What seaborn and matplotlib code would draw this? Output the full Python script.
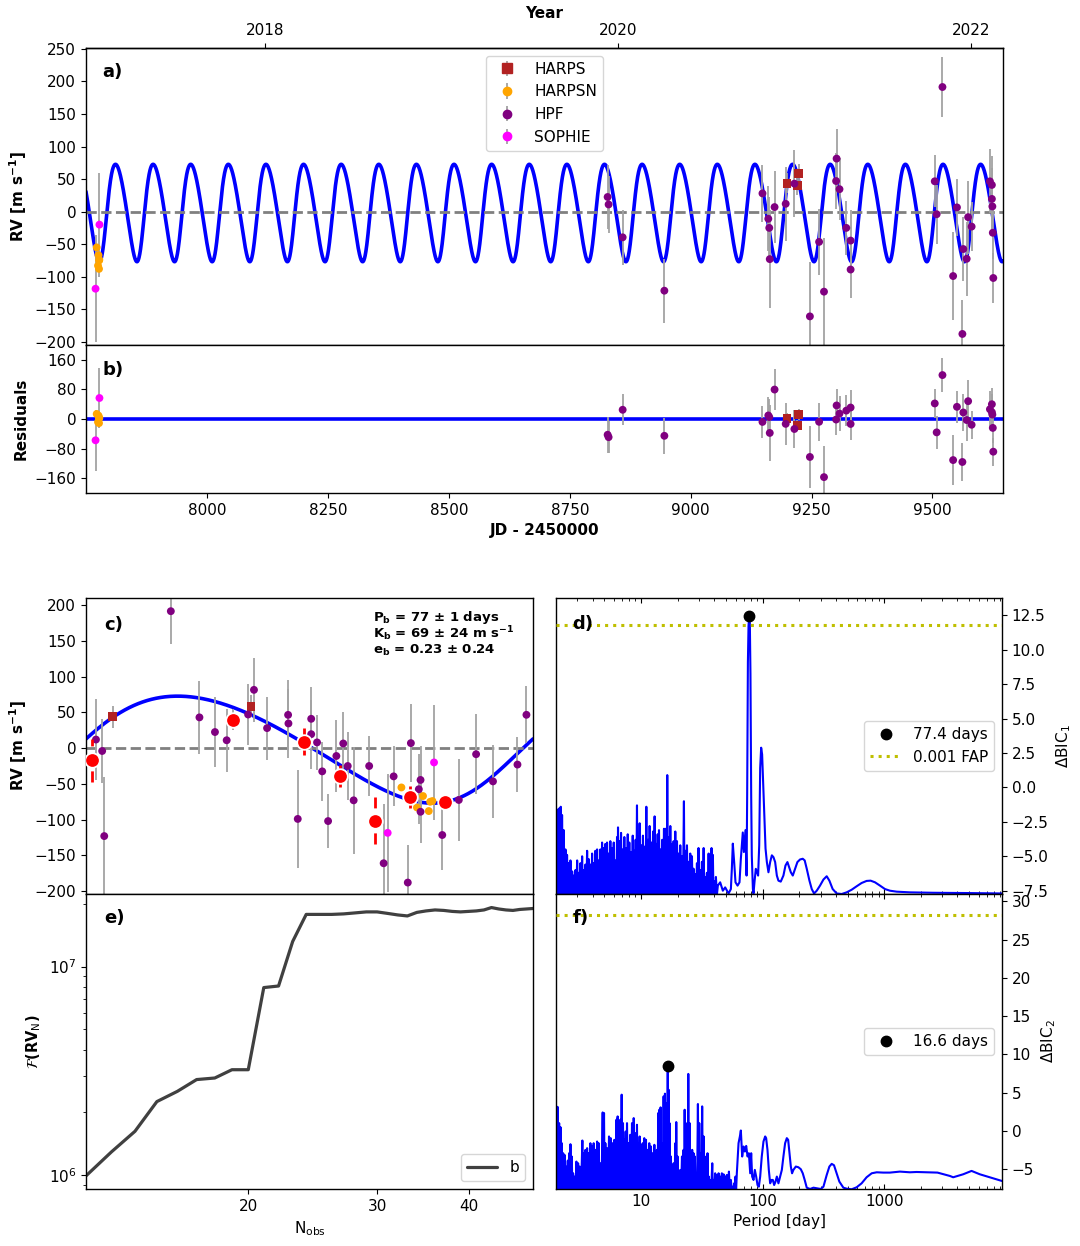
import numpy as np
import matplotlib
matplotlib.use("Agg")
import matplotlib.pyplot as plt
import seaborn as sns
from matplotlib.ticker import FuncFormatter, NullFormatter, NullLocator, MultipleLocator

# ------------------------------------------------------------------ data
# HPF radial velocities (JD - 2450000, m/s)
hpf_time = [8828.25, 8830.29, 8859.35, 8945.61, 9148.52, 9160.58, 9162.56, 9163.59,
            9173.55, 9196.54, 9214.55, 9246.61, 9265.64, 9275.78, 9300.82, 9301.84,
            9307.84, 9321.89, 9330.83, 9330.83, 9504.86, 9508.82, 9520.77, 9542.86,
            9550.78, 9562.01, 9563.93, 9570.89, 9573.90, 9581.10, 9618.98, 9623.00,
            9623.00, 9624.02, 9624.92, 9625.94]
hpf_rv = [22.5, 11, -39.5, -121.5, 28, -11, -25, -73, 7, 12, 43, -161, -46.5, -123,
          47, 81.5, 34.5, -25, -44.5, -89, 46.6, -4, 191.5, -99, 6.5, -188, -57.5,
          -72.5, -8.5, -23, 46.5, 41, 19.5, 8, -32.5, -102]
hpf_err = [49, 44, 42, 49, 44, 50, 48, 75, 55, 57, 51, 83, 51, 83, 43, 45, 48, 42,
           47, 44, 40, 45, 46, 68, 44, 52, 49, 57, 56, 38, 49, 45, 48, 38, 41, 38]

harps_time = [9199.42, 9220.47, 9223.54]
harps_rv = [43.8, 40.0, 58.7]
harps_err = [15, 15, 15]

harpsn_time = [7771.50, 7774.21, 7775.26, 7776.26, 7776.51, 7776.90]
harpsn_rv = [-55, -83, -67, -88, -75, -74]
harpsn_err = [4, 4, 4, 4, 4, 4]

sophie_time = [7769.11, 7777.18]
sophie_rv = [-118.5, -20.0]
sophie_err = [82, 80]

# binned phase-folded RVs (panel c)
bin_phase = [0.0146, 0.3298, 0.4867, 0.5673, 0.6464, 0.7242, 0.8033]
bin_rv = [-16.8, 39.6, 8.8, -39.2, -101.6, -68.5, -75.0]
bin_err = [30, 6, 19, 15, 33, 15, 6]

# Keplerian model parameters
P_ORB = 77.8
K_AMP = 74.85
ECC = 0.125
OMEGA_DEG = 241.8
GAMMA = 2.27
T_PERI = 9499.25
T_PHASE0 = 9506.0

# panel d periodogram (log10 period, Delta BIC_1)
d_peak_log10p = [0.305, 0.310, 0.319, 0.330, 0.340, 0.351, 0.365, 0.379, 0.392, 0.406,
                 0.420, 0.434, 0.447, 0.461, 0.475, 0.488, 0.502, 0.516, 0.529, 0.543,
                 0.557, 0.570, 0.584, 0.598, 0.611, 0.625, 0.639, 0.652, 0.666, 0.680,
                 0.694, 0.707, 0.721, 0.735, 0.748, 0.762, 0.776, 0.789, 0.803, 0.811,
                 0.825, 0.836, 0.850, 0.863, 0.877, 0.891, 0.904, 0.918, 0.932, 0.945,
                 0.956, 0.967, 0.978, 0.989, 1.003, 1.016, 1.030, 1.044, 1.058, 1.071,
                 1.085, 1.099, 1.112, 1.126, 1.137, 1.148, 1.161, 1.175, 1.189, 1.200,
                 1.208, 1.216, 1.227, 1.241, 1.255, 1.268, 1.282, 1.296, 1.309, 1.323,
                 1.337, 1.353, 1.364, 1.378, 1.391, 1.405, 1.419, 1.432, 1.446, 1.460,
                 1.473, 1.487, 1.501, 1.515, 1.528, 1.542, 1.556, 1.569, 1.580, 1.591,
                 1.602, 1.616]
d_peak_bic = [-1.8, -1.6, -1.9, -1.5, -1.4, -2.0, -3.1, -4.5, -4.9, -5.5,
              -5.3, -6.1, -6.4, -6.0, -5.3, -6.2, -5.5, -5.0, -6.0, -5.6,
              -4.6, -5.2, -5.6, -4.8, -5.5, -4.6, -4.5, -5.3, -4.5, -4.0,
              -4.4, -4.1, -4.0, -4.8, -3.9, -4.4, -4.0, -5.3, -3.6, -2.9,
              -3.9, -3.3, -4.5, -3.6, -4.4, -3.4, -4.0, -4.7, -3.5, -4.6,
              -3.8, -1.3, -3.6, -2.6, -4.2, -3.5, -4.3, -1.4, -3.8, -2.8,
              -4.0, -3.2, -2.1, -4.1, -3.4, -3.1, -4.5, -3.8, -3.0, -3.0,
              -4.2, 0.9, -3.6, -2.8, -4.1, -3.9, -3.2, -3.9, -4.8, -4.2,
              -5.0, -1.0, -4.6, -4.2, -5.4, -4.8, -5.0, -5.9, -6.3, -5.5,
              -4.4, -6.0, -5.4, -4.4, -6.5, -6.2, -4.8, -5.0, -4.4, -4.9,
              -6.8, -6.5]
d_trough_log10p = [0.308, 0.314, 0.324, 0.335, 0.346, 0.358, 0.372, 0.385, 0.399, 0.413,
                   0.427, 0.440, 0.454, 0.468, 0.481, 0.495, 0.509, 0.522, 0.536, 0.550,
                   0.563, 0.577, 0.591, 0.604, 0.618, 0.632, 0.645, 0.659, 0.673, 0.687,
                   0.700, 0.714, 0.728, 0.741, 0.755, 0.769, 0.782, 0.796, 0.807, 0.818,
                   0.830, 0.843, 0.856, 0.870, 0.884, 0.897, 0.911, 0.925, 0.938, 0.950,
                   0.961, 0.972, 0.983, 0.996, 1.010, 1.023, 1.037, 1.051, 1.064, 1.078,
                   1.092, 1.105, 1.119, 1.131, 1.142, 1.155, 1.168, 1.182, 1.194, 1.204,
                   1.212, 1.221, 1.234, 1.248, 1.261, 1.275, 1.289, 1.302, 1.316, 1.330,
                   1.345, 1.358, 1.371, 1.384, 1.398, 1.412, 1.425, 1.439, 1.453, 1.466,
                   1.480, 1.494, 1.508, 1.521, 1.535, 1.549, 1.562, 1.575, 1.585, 1.596,
                   1.609, 1.624]
d_trough_bic = -7.8
d_smooth_log10p = [1.632, 1.651, 1.673, 1.692, 1.720, 1.739, 1.747, 1.755, 1.766, 1.777,
                   1.794, 1.810, 1.821, 1.837, 1.846, 1.854, 1.859, 1.868, 1.873, 1.879,
                   1.884, 1.8887, 1.895, 1.900, 1.906, 1.911, 1.920, 1.925, 1.933, 1.944,
                   1.955, 1.963, 1.972, 1.980, 1.988, 1.996, 2.004, 2.013, 2.024, 2.035,
                   2.048, 2.062, 2.076, 2.089, 2.103, 2.117, 2.130, 2.149, 2.171, 2.188,
                   2.204, 2.218, 2.232, 2.248, 2.267, 2.286, 2.308, 2.330, 2.346, 2.363,
                   2.385, 2.404, 2.423, 2.445, 2.472, 2.500, 2.527, 2.549, 2.576, 2.609,
                   2.650, 2.691, 2.732, 2.773, 2.814, 2.855, 2.888, 2.924, 2.965, 3.006,
                   3.047, 3.102, 3.211, 3.403, 3.677, 3.967]
d_smooth_bic = [-7.13, -6.89, -7.50, -7.26, -7.70, -7.38, -5.91, -4.08, -5.42, -6.89,
                -7.13, -6.89, -5.18, -3.27, -4.69, -3.71, -3.10, -6.40, -0.53, 9.10,
                11.69, 12.45, 11.94, 8.27, -0.53, -4.93, -7.38, -7.70, -6.89, -5.91,
                -6.16, -6.40, -4.20, 1.42, 2.89, 2.40, 0.45, -1.75, -4.44, -5.42,
                -6.16, -5.42, -4.93, -5.06, -5.42, -6.40, -6.77, -6.84, -6.40, -5.67,
                -5.42, -5.79, -6.16, -6.40, -5.91, -5.42, -5.23, -5.18, -5.30, -5.91,
                -6.77, -7.38, -7.70, -7.50, -7.13, -6.69, -6.45, -6.77, -7.38, -7.70,
                -7.74, -7.62, -7.43, -7.18, -6.94, -6.79, -6.77, -6.89, -7.13, -7.38,
                -7.50, -7.57, -7.62, -7.65, -7.67, -7.70]
d_best_period = 77.4
d_best_bic = 12.45
d_fap = 11.84

# panel f periodogram (log10 period, Delta BIC_2)
f_peak_log10p = [0.305, 0.316, 0.327, 0.338, 0.349, 0.360, 0.371, 0.384, 0.398, 0.409,
                 0.420, 0.431, 0.442, 0.455, 0.469, 0.483, 0.496, 0.518, 0.529, 0.543,
                 0.557, 0.570, 0.584, 0.598, 0.611, 0.625, 0.639, 0.652, 0.666, 0.685,
                 0.696, 0.707, 0.721, 0.737, 0.751, 0.765, 0.781, 0.798, 0.808, 0.819,
                 0.830, 0.841, 0.852, 0.863, 0.874, 0.885, 0.899, 0.912, 0.926, 0.940,
                 0.953, 0.967, 0.978, 0.989, 1.000, 1.014, 1.027, 1.041, 1.055, 1.068,
                 1.082, 1.096, 1.110, 1.120, 1.131, 1.142, 1.151, 1.161, 1.175, 1.186,
                 1.197, 1.208, 1.220, 1.227, 1.235, 1.246, 1.257, 1.268, 1.282, 1.290,
                 1.301, 1.312, 1.323, 1.337, 1.350, 1.359, 1.369, 1.380, 1.389, 1.400,
                 1.411, 1.421, 1.432, 1.443, 1.454, 1.468, 1.479, 1.490, 1.503, 1.515,
                 1.525, 1.536, 1.547, 1.558, 1.569, 1.586, 1.597, 1.610, 1.624, 1.638,
                 1.651, 1.665, 1.679, 1.692, 1.706, 1.723, 1.739, 1.755, 1.766, 1.777]
f_peak_bic = [3.22, 3.13, 1.03, 0.51, -1.59, -2.90, -3.11, -4.64, -3.86, -2.90,
              -1.72, -3.33, -5.52, -5.95, -3.99, -4.21, -4.64, -1.24, -2.90, -2.46,
              -2.24, -2.90, -1.59, -2.02, -1.59, -2.46, -1.37, -1.59, -4.21, 2.43,
              2.35, -1.59, -2.24, -0.71, -0.93, -1.59, -1.15, 1.47, 1.91, 0.16,
              1.47, 4.75, 1.03, -1.15, -0.06, 1.03, -1.59, -0.49, 1.03, 1.69,
              -0.28, 0.82, -1.59, -0.71, -1.80, -1.59, -0.93, -1.15, -2.46, -1.59,
              -2.02, -2.90, -1.80, -3.33, -2.46, 2.35, 2.78, 3.09, -1.59, 4.53,
              4.88, 3.66, 8.55, 5.40, 1.03, -3.33, -5.52, -4.21, -1.59, 1.17,
              -3.33, -6.39, -5.08, -3.33, -2.46, 2.78, 1.03, -1.59, 7.46, 1.03,
              -5.52, -2.46, -2.90, -3.33, -5.74, 3.53, 1.03, -2.90, 3.22, -0.71,
              -4.21, -3.33, -2.90, -5.95, -6.39, -4.21, -6.39, -5.52, -5.74, -5.52,
              -5.95, -5.52, -5.65, -5.95, -5.74, -5.30, -6.39, -7.27, -6.83, -5.95]
f_trough_log10p = [0.310, 0.321, 0.332, 0.343, 0.354, 0.365, 0.377, 0.391, 0.403, 0.414,
                   0.425, 0.436, 0.448, 0.462, 0.476, 0.489, 0.507, 0.523, 0.536, 0.550,
                   0.563, 0.577, 0.591, 0.604, 0.618, 0.632, 0.645, 0.659, 0.675, 0.690,
                   0.701, 0.714, 0.729, 0.744, 0.758, 0.773, 0.789, 0.803, 0.813, 0.824,
                   0.835, 0.846, 0.857, 0.868, 0.879, 0.892, 0.905, 0.919, 0.933, 0.946,
                   0.960, 0.972, 0.983, 0.994, 1.007, 1.020, 1.034, 1.048, 1.061, 1.075,
                   1.089, 1.103, 1.115, 1.125, 1.136, 1.146, 1.156, 1.168, 1.180, 1.191,
                   1.202, 1.214, 1.224, 1.231, 1.240, 1.251, 1.262, 1.275, 1.286, 1.295,
                   1.306, 1.317, 1.330, 1.343, 1.355, 1.364, 1.374, 1.384, 1.394, 1.405,
                   1.416, 1.426, 1.437, 1.448, 1.461, 1.473, 1.484, 1.496, 1.509, 1.520,
                   1.530, 1.541, 1.552, 1.563, 1.577, 1.591, 1.603, 1.617, 1.631, 1.644,
                   1.658, 1.672, 1.685, 1.699, 1.714, 1.731, 1.747, 1.760, 1.771, 1.782]
f_trough_bic = -7.8
f_smooth_log10p = [1.788, 1.802, 1.813, 1.821, 1.832, 1.843, 1.854, 1.865, 1.876, 1.887,
                   1.898, 1.906, 1.914, 1.925, 1.936, 1.947, 1.958, 1.969, 1.980, 1.993,
                   2.007, 2.021, 2.029, 2.040, 2.051, 2.062, 2.073, 2.084, 2.095, 2.106,
                   2.117, 2.130, 2.144, 2.158, 2.171, 2.185, 2.199, 2.210, 2.221, 2.232,
                   2.242, 2.253, 2.273, 2.294, 2.314, 2.330, 2.346, 2.363, 2.390, 2.418,
                   2.445, 2.478, 2.500, 2.527, 2.549, 2.568, 2.587, 2.609, 2.631, 2.664,
                   2.691, 2.732, 2.773, 2.814, 2.855, 2.897, 2.938, 2.992, 3.047, 3.129,
                   3.211, 3.266, 3.348, 3.438, 3.540, 3.567, 3.649, 3.718, 3.786, 3.868,
                   3.967]
f_smooth_bic = [-5.52, -1.59, -0.71, 0.07, -3.33, -2.02, -2.68, -1.94, -3.33, -2.90,
                -5.52, -2.90, -5.95, -6.39, -5.08, -5.95, -7.05, -7.27, -5.95, -3.33,
                -1.37, -0.71, -0.93, -2.46, -5.08, -6.83, -6.39, -6.39, -7.05, -6.61,
                -5.95, -6.83, -5.95, -5.08, -3.33, -1.59, -0.93, -1.15, -2.90, -4.64,
                -5.52, -5.08, -4.64, -4.73, -4.99, -5.52, -6.39, -7.40, -7.57, -7.40,
                -7.48, -7.57, -7.27, -5.74, -4.64, -4.29, -4.47, -5.52, -6.61, -7.40,
                -7.53, -7.61, -7.35, -6.83, -6.04, -5.52, -5.39, -5.43, -5.43, -5.30,
                -5.39, -5.35, -5.39, -5.43, -5.87, -6.04, -5.65, -5.21, -5.65, -6.04,
                -6.52]
f_best_period = 16.6
f_best_bic = 8.55
f_fap = 28.2

# panel e: Fisher information vs number of observations
n_obs = [12, 13, 14, 15, 16, 17, 18, 19, 20, 21, 22, 23, 24, 25, 26, 27, 28, 29, 30,
         31, 32, 33, 34, 35, 36, 37, 38, 39, 40, 41, 42, 43, 44, 45, 46, 47, 48, 49]
fisher_b = [0.99e6, 1.29e6, 1.62e6, 2.25e6, 2.52e6, 2.87e6, 2.92e6, 3.20e6, 3.20e6,
            7.93e6, 8.07e6, 1.32e7, 1.78e7, 1.78e7, 1.78e7, 1.79e7, 1.81e7, 1.83e7,
            1.83e7, 1.80e7, 1.77e7, 1.75e7, 1.82e7, 1.85e7, 1.87e7, 1.86e7, 1.84e7,
            1.83e7, 1.84e7, 1.85e7, 1.87e7, 1.92e7, 1.89e7, 1.87e7, 1.86e7, 1.88e7,
            1.89e7, 1.90e7]

# ------------------------------------------------------------------ style
sns.set_style("ticks")
plt.rcParams.update({
    "axes.edgecolor": "black", "axes.labelcolor": "black", "text.color": "black",
    "xtick.color": "black", "ytick.color": "black",
    "xtick.labelsize": 11, "ytick.labelsize": 11, "axes.labelsize": 11,
    "legend.fontsize": 11, "axes.linewidth": 1.0,
})
plt.rcParams["font.family"] = ["DejaVu Sans"]

ERR_COLOR = "#a3a3a3"
C_HARPS, C_HARPSN, C_HPF, C_SOPHIE = "firebrick", "orange", "purple", "magenta"


def keplerian_rv(t):
    t = np.asarray(t, dtype=float)
    M = np.mod(2 * np.pi * (t - T_PERI) / P_ORB, 2 * np.pi)
    E = M.copy()
    for _ in range(60):
        E = E - (E - ECC * np.sin(E) - M) / (1 - ECC * np.cos(E))
    nu = 2 * np.arctan2(np.sqrt(1 + ECC) * np.sin(E / 2), np.sqrt(1 - ECC) * np.cos(E / 2))
    w = np.deg2rad(OMEGA_DEG)
    return K_AMP * (np.cos(nu + w) + ECC * np.cos(w)) + GAMMA


def fold(t):
    return np.mod((np.asarray(t, float) - T_PHASE0) / P_ORB, 1.0)


def draw_inst(ax, x, y, err, color, marker, size):
    ax.errorbar(x, y, yerr=err, fmt="none", ecolor=ERR_COLOR, elinewidth=1.3, zorder=2)
    sns.scatterplot(x=np.asarray(x), y=np.asarray(y), color=color, marker=marker, s=size,
                    edgecolor="none", linewidth=0, ax=ax, zorder=3, legend=False)


instruments = [
    ("HARPS", harps_time, harps_rv, harps_err, C_HARPS, "s", 40),
    ("HARPSN", harpsn_time, harpsn_rv, harpsn_err, C_HARPSN, "o", 32),
    ("HPF", hpf_time, hpf_rv, hpf_err, C_HPF, "o", 32),
    ("SOPHIE", sophie_time, sophie_rv, sophie_err, C_SOPHIE, "o", 32),
]

fig = plt.figure(figsize=(10.8, 12.46), dpi=100)
ax_a = fig.add_axes([0.0796, 0.7231, 0.8491, 0.2384])
ax_b = fig.add_axes([0.0796, 0.6043, 0.8491, 0.1188], sharex=ax_a)
ax_c = fig.add_axes([0.0796, 0.2825, 0.4139, 0.2376])
ax_e = fig.add_axes([0.0796, 0.0457, 0.4139, 0.2368])
ax_d = fig.add_axes([0.5148, 0.2825, 0.4130, 0.2376])
ax_f = fig.add_axes([0.5148, 0.0457, 0.4130, 0.2368], sharex=ax_d)

XMIN, XMAX = 7749.3, 9646.0

# ---------------- panel a
tgrid = np.linspace(XMIN, XMAX, 6000)
sns.lineplot(x=tgrid, y=keplerian_rv(tgrid), color="blue", linewidth=2.6, ax=ax_a,
             estimator=None, sort=False, zorder=1)
ax_a.axhline(0, color="gray", ls="--", lw=2.0, zorder=1.5)
for lab, t, rv, er, col, mk, sz in instruments:
    draw_inst(ax_a, t, rv, er, col, mk, sz)
    ax_a.errorbar([-1e5], [0], yerr=[1], fmt=mk, color=col, ecolor=ERR_COLOR,
                  ms=6.5 if mk == "s" else 6, elinewidth=1.3, label=lab)
ax_a.legend(loc="upper center", fontsize=11, frameon=True)
ax_a.set_xlim(XMIN, XMAX)
ax_a.set_ylim(-205, 251.5)
ax_a.yaxis.set_major_locator(MultipleLocator(50))
ax_a.tick_params(labelbottom=False, bottom=False)
ax_a.set_ylabel(r"RV [m s$^{\mathbf{-1}}$]", fontweight="bold")
ax_a.set_xlabel("")
ax_a.text(0.018, 0.92, "a)", transform=ax_a.transAxes, fontsize=13, fontweight="bold", va="center")


def jd_to_year(x):
    return 2000.0 + (np.asarray(x, float) + 2450000.0 - 2451544.5) / 365.25


def year_to_jd(y):
    return (np.asarray(y, float) - 2000.0) * 365.25 + 2451544.5 - 2450000.0


sec = ax_a.secondary_xaxis("top", functions=(jd_to_year, year_to_jd))
sec.set_xticks([2018, 2020, 2022])
sec.xaxis.set_minor_locator(NullLocator())
sec.set_xlabel("Year", fontweight="bold")

# ---------------- panel b (residuals)
ax_b.axhline(0, color="blue", lw=2.6, zorder=1)
for lab, t, rv, er, col, mk, sz in instruments:
    res = np.asarray(rv, float) - keplerian_rv(t)
    draw_inst(ax_b, t, res, er, col, mk, sz)
ax_b.set_ylim(-200.5, 200.5)
ax_b.set_yticks([-160, -80, 0, 80, 160])
ax_b.set_xticks([8000, 8250, 8500, 8750, 9000, 9250, 9500])
ax_b.set_xlim(XMIN, XMAX)
ax_b.set_ylabel("Residuals", fontweight="bold")
ax_b.set_xlabel("JD - 2450000", fontweight="bold")
ax_b.text(0.018, 0.83, "b)", transform=ax_b.transAxes, fontsize=13, fontweight="bold", va="center")

# ---------------- panel c (phase folded)
phgrid = np.linspace(0, 1, 600)
sns.lineplot(x=phgrid, y=keplerian_rv(T_PHASE0 + phgrid * P_ORB), color="blue", linewidth=2.6,
             ax=ax_c, estimator=None, sort=False, zorder=1)
ax_c.axhline(0, color="gray", ls="--", lw=2.0, zorder=1.5)
for lab, t, rv, er, col, mk, sz in instruments:
    draw_inst(ax_c, fold(t), rv, er, col, mk, sz)
eb = ax_c.errorbar(bin_phase, bin_rv, yerr=bin_err, fmt="none", ecolor="red", elinewidth=2.0, zorder=4)
eb[2][0].set_linestyle((0, (4, 2.5)))
sns.scatterplot(x=np.asarray(bin_phase), y=np.asarray(bin_rv), color="red", s=110,
                edgecolor="white", linewidth=1.3, ax=ax_c, zorder=5, legend=False)
ax_c.set_xlim(0, 1)
ax_c.set_ylim(-204, 210)
ax_c.set_xticks([])
ax_c.yaxis.set_major_locator(MultipleLocator(50))
ax_c.set_ylabel(r"RV [m s$^{\mathbf{-1}}$]", fontweight="bold")
ax_c.set_xlabel("")
ax_c.text(0.04, 0.909, "c)", transform=ax_c.transAxes, fontsize=13, fontweight="bold", va="center")
ax_c.text(0.641, 0.935, r"P$_\mathbf{b}$ = 77 ± 1 days", transform=ax_c.transAxes,
          fontsize=9.5, fontweight="bold", va="center")
ax_c.text(0.641, 0.878, r"K$_\mathbf{b}$ = 69 ± 24 m s$^{\mathbf{-1}}$", transform=ax_c.transAxes,
          fontsize=9.5, fontweight="bold", va="center")
ax_c.text(0.641, 0.823, r"e$_\mathbf{b}$ = 0.23 ± 0.24", transform=ax_c.transAxes,
          fontsize=9.5, fontweight="bold", va="center")

# ---------------- panel e
sns.lineplot(x=n_obs, y=fisher_b, color="#404040", linewidth=2.3, ax=ax_e, label="b",
             estimator=None, sort=False)
ax_e.set_xscale("log")
ax_e.set_yscale("log")
ax_e.set_xlim(12, 49)
ax_e.set_ylim(8.56e5, 2.23e7)
ax_e.set_xticks([20, 30, 40])
ax_e.xaxis.set_major_formatter(FuncFormatter(lambda v, p: f"{v:g}"))
ax_e.xaxis.set_minor_locator(NullLocator())
ax_e.set_xlabel(r"N$_{\mathrm{obs}}$")
ax_e.set_ylabel(r"$\mathcal{F}$(RV$_{\mathrm{N}}$)", fontweight="bold", fontsize=10.5)
ax_e.legend(loc="lower right", fontsize=11, frameon=True)
ax_e.text(0.04, 0.918, "e)", transform=ax_e.transAxes, fontsize=13, fontweight="bold", va="center")


# ---------------- periodograms
def build_periodogram(peak_lp, peak_v, trough_lp, trough_v, smooth_lp, smooth_v):
    n1 = min(len(peak_lp), len(peak_v))
    lp = list(peak_lp[:n1]) + list(trough_lp) + list(smooth_lp[:len(smooth_v)])
    vv = list(peak_v[:n1]) + [trough_v] * len(trough_lp) + list(smooth_v[:len(smooth_lp)])
    lp = np.asarray(lp)
    vv = np.asarray(vv)
    order = np.argsort(lp, kind="stable")
    return 10 ** lp[order], vv[order]


d_per, d_val = build_periodogram(d_peak_log10p, d_peak_bic, d_trough_log10p, d_trough_bic,
                                 d_smooth_log10p, d_smooth_bic)
f_per, f_val = build_periodogram(f_peak_log10p, f_peak_bic, f_trough_log10p, f_trough_bic,
                                 f_smooth_log10p, f_smooth_bic)

for ax, per, val, bp, bb, fap, lab, ylab, ylim, letter in [
        (ax_d, d_per, d_val, d_best_period, d_best_bic, d_fap, "77.4 days",
         r"$\Delta$BIC$_1$", (-7.74, 13.77), "d)"),
        (ax_f, f_per, f_val, f_best_period, f_best_bic, f_fap, "16.6 days",
         r"$\Delta$BIC$_2$", (-7.58, 30.96), "f)")]:
    sns.lineplot(x=per, y=val, color="blue", linewidth=1.5, ax=ax, estimator=None, sort=False, zorder=2)
    ax.plot([bp], [bb], "o", color="black", ms=7.5, zorder=4, label=lab)
    if ax is ax_d:
        ax.axhline(fap, color="y", ls=":", lw=2.2, zorder=3, label="0.001 FAP")
    else:
        ax.axhline(fap, color="y", ls=":", lw=2.2, zorder=3)
    ax.set_xscale("log")
    ax.set_xlim(2.0, 9300)
    ax.set_ylim(*ylim)
    ax.yaxis.tick_right()
    ax.yaxis.set_label_position("right")
    ax.set_ylabel(ylab)
    ax.tick_params(axis="x", which="both", direction="in", top=True, bottom=True)
    ax.tick_params(axis="y", which="both", left=False, right=True)
    ax.legend(loc="center right", fontsize=11, frameon=True)
    ax.text(0.037, 0.911 if ax is ax_d else 0.918, letter, transform=ax.transAxes, fontsize=13,
            fontweight="bold", va="center")

ax_d.yaxis.set_major_locator(MultipleLocator(2.5))
ax_f.yaxis.set_major_locator(MultipleLocator(5))
ax_d.tick_params(labelbottom=False)
ax_d.set_xlabel("")
ax_f.xaxis.set_major_formatter(FuncFormatter(lambda v, p: f"{v:g}"))
ax_f.xaxis.set_minor_formatter(NullFormatter())
ax_f.set_xlabel("Period [day]")

fig.savefig("out.png", dpi=100)
